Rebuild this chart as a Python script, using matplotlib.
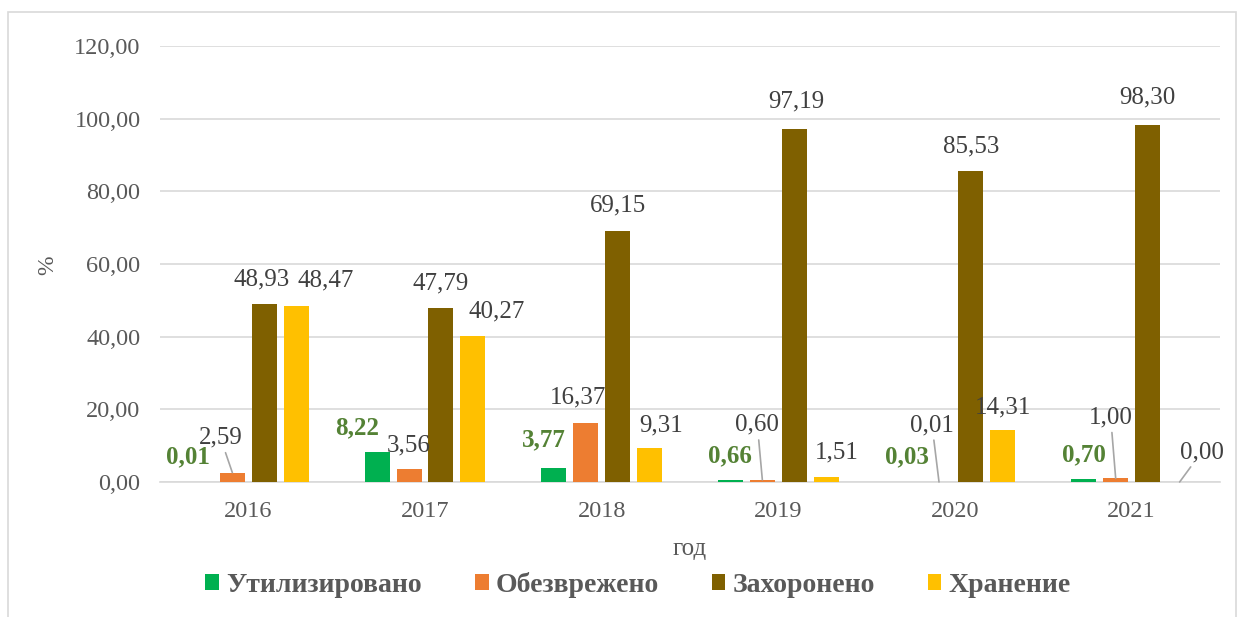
import numpy as np
import matplotlib
matplotlib.use("Agg")
import matplotlib.pyplot as plt
from matplotlib.patches import Rectangle

plt.rcParams['font.family'] = ['Liberation Serif', 'DejaVu Serif']

# data
years = ['2016', '2017', '2018', '2019', '2020', '2021']
series_names = ['Утилизировано', 'Обезврежено', 'Захоронено', 'Хранение']
utilized = [0.01, 8.22, 3.77, 0.66, 0.03, 0.70]
neutralized = [2.59, 3.56, 16.37, 0.60, 0.01, 1.00]
buried = [48.93, 47.79, 69.15, 97.19, 85.53, 98.30]
stored = [48.47, 40.27, 9.31, 1.51, 14.31, 0.00]
values = [utilized, neutralized, buried, stored]
yticks = [0, 20, 40, 60, 80, 100, 120]

colors = ['#00B050', '#ED7D31', '#7F6000', '#FFC000']
label_colors = ['#548235', '#404040', '#404040', '#404040']
label_bold = [True, False, False, False]

# label offsets from bar top in pixels (dx, up) and whether a leader line is drawn
label_offsets = [
    [(-12, 25), (-20, 24), (-10, 28), (0, 24), (0, 25), (0, 25)],
    [(-12, 35), (0, 24), (-8, 25), (-5, 55), (-7, 57), (-5, 61)],
    [(-3, 25), (0, 25), (0, 25), (2, 27), (0, 25), (0, 27)],
    [(29, 25), (24, 24), (11, 23), (10, 24), (0, 23), (22, 30)],
]
leaders = [
    [False] * 6,
    [True, False, False, True, True, True],
    [False] * 6,
    [False, False, False, False, False, True],
]

W, H = 1244, 617
fig = plt.figure(figsize=(W / 100, H / 100), dpi=100)
ax = fig.add_axes([160 / W, (H - 482) / H, 1060 / W, 436 / H])

x = np.arange(len(years))
slot = 0.181
width = 0.1415
px = 0.72  # pixels -> points

for i, (vals, col) in enumerate(zip(values, colors)):
    xs = x + (i - 1.5) * slot
    ax.bar(xs, vals, width, color=col, label=series_names[i], zorder=3)
    for j, v in enumerate(vals):
        dx, up = label_offsets[i][j]
        txt = f"{v:.2f}".replace('.', ',')
        arrow = None
        if leaders[i][j]:
            arrow = dict(arrowstyle='-', color='#A6A6A6', lw=1.2, shrinkA=1, shrinkB=0)
        ax.annotate(txt, xy=(xs[j], v), xytext=(dx * px, up * px),
                    textcoords='offset points', ha='center', va='center',
                    fontsize=18, color=label_colors[i],
                    fontweight='bold' if label_bold[i] else 'normal',
                    arrowprops=arrow, zorder=4)

ax.set_xlim(-0.5, 5.5)
ax.set_ylim(0, 120)
ax.set_xticks(x)
ax.set_xticklabels(years)
ax.set_yticks(yticks)
ax.set_yticklabels([f"{t:.2f}".replace('.', ',') for t in yticks])
ax.tick_params(axis='both', length=0, labelsize=17.5, colors='#595959')
ax.tick_params(axis='x', pad=14)
ax.tick_params(axis='y', pad=14)
ax.grid(axis='y', color='#D9D9D9', lw=1.2, zorder=0)
for s in ['top', 'right', 'left']:
    ax.spines[s].set_visible(False)
ax.spines['bottom'].set_color('#D9D9D9')
ax.spines['bottom'].set_linewidth(1.2)

fig.text(690 / W, 1 - 549 / H, 'год', ha='center', va='center', fontsize=18, color='#595959')
fig.text(48 / W, 1 - 265 / H, '%', ha='center', va='center', fontsize=17, color='#595959', rotation=90)

fig.legend(loc='center', bbox_to_anchor=(638 / W, 1 - 585 / H), ncol=4, frameon=False,
           prop={'weight': 'bold', 'size': 20}, labelcolor='#595959',
           handlelength=0.5, handleheight=0.5, handletextpad=0.25, columnspacing=1.9)

fig.patches.append(Rectangle((8 / W, -0.05), (1236 - 8) / W, 1.05 - 12 / H,
                             transform=fig.transFigure, fill=False, ec='#D9D9D9', lw=1.2))

fig.savefig('out.png', dpi=100)
